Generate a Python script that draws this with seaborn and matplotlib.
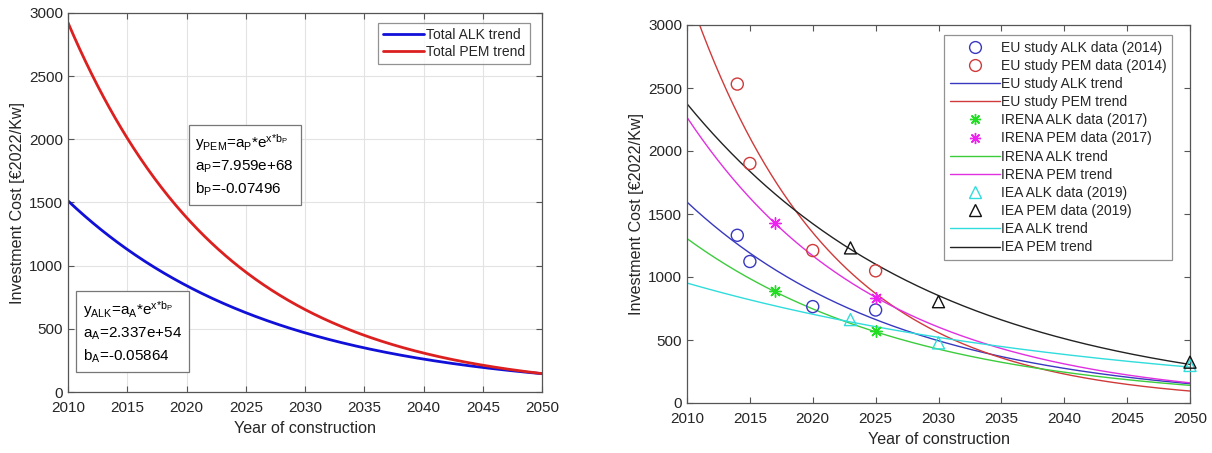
import numpy as np
import pandas as pd
import matplotlib
matplotlib.use("Agg")
import matplotlib.pyplot as plt
import seaborn as sns
from matplotlib.lines import Line2D

# ---------------- Left panel: total trends (fit parameters shown on chart) -------------
total_names = ["Total ALK trend", "Total PEM trend"]
total_a = [2.337e54, 7.959e68]
total_b = [-0.05864, -0.07496]
total_colors = ["#1010d8", "#dc2020"]

# ---------------- Right panel: source data -------------
eu_years = [2014, 2015, 2020, 2025]
eu_alk_cost = [1331, 1123, 765, 738]
eu_pem_cost = [2531, 1901, 1210, 1049]

irena_years = [2017, 2025]
irena_alk_cost = [886, 572]
irena_pem_cost = [1426, 833]

iea_years = [2023, 2030, 2050]
iea_alk_cost = [662, 477, 298]
iea_pem_cost = [1231, 804, 324]

# exponential trend lines: value at 2010 and at 2050
trend_names = ["EU study ALK trend", "EU study PEM trend", "IRENA ALK trend",
               "IRENA PEM trend", "IEA ALK trend", "IEA PEM trend"]
trend_2010 = [1595, 3278, 1305, 2267, 952, 2375]
trend_2050 = [153, 95, 140, 160, 285, 306]

C_BLUE, C_RED, C_GREEN, C_MAG, C_CYAN, C_BLACK = (
    "#3838c0", "#d03a3a", "#3ccc3c", "#e030e0", "#30dcdc", "#222222")
trend_colors = [C_BLUE, C_RED, C_GREEN, C_MAG, C_CYAN, C_BLACK]

xlabel = "Year of construction"
ylabel = "Investment Cost [\u20ac2022/Kw]"
xticks = [2010, 2015, 2020, 2025, 2030, 2035, 2040, 2045, 2050]
yticks = [0, 500, 1000, 1500, 2000, 2500, 3000]

# ---------------- style -------------
sns.set_style("ticks")
plt.rcParams["font.family"] = ["Liberation Sans", "DejaVu Sans"]
plt.rcParams["mathtext.fontset"] = "custom"
plt.rcParams["mathtext.rm"] = "Liberation Sans"
plt.rcParams["mathtext.it"] = "Liberation Sans"
plt.rcParams["mathtext.bf"] = "Liberation Sans:bold"

TXT = "#262626"
EDGE = "#555555"

W, H = 1212, 453
fig = plt.figure(figsize=(W / 100, H / 100), dpi=100)
fig.patch.set_facecolor("white")


def px_axes(x0, y0, x1, y1):
    return fig.add_axes([x0 / W, 1 - y1 / H, (x1 - x0) / W, (y1 - y0) / H])


def style_axes(ax, grid):
    ax.set_xlim(2010, 2050)
    ax.set_ylim(0, 3000)
    ax.set_xticks(xticks)
    ax.set_yticks(yticks)
    ax.tick_params(direction="in", top=True, right=True, length=4, width=0.8,
                   colors=EDGE, labelcolor=TXT, labelsize=11)
    ax.tick_params(axis="x", pad=6.5)
    ax.tick_params(axis="y", pad=3.5)
    for s in ax.spines.values():
        s.set_visible(True)
        s.set_color(EDGE)
        s.set_linewidth(0.9)
    ax.set_xlabel(xlabel, fontsize=11.6, color=TXT, labelpad=4.5)
    ax.set_ylabel(ylabel, fontsize=11.6, color=TXT, labelpad=3)
    if grid:
        ax.grid(True, color="#e3e3e3", linewidth=0.8)
        ax.set_axisbelow(True)


# ---------------- Left panel -------------
axL = px_axes(68, 13, 542, 392)
xs = np.linspace(2010, 2050, 401)
rows = []
for name, a, b in zip(total_names, total_a, total_b):
    for x in xs:
        rows.append((name, x, a * np.exp(b * x)))
dfL = pd.DataFrame(rows, columns=["series", "year", "cost"])
sns.lineplot(data=dfL, x="year", y="cost", hue="series", hue_order=total_names,
             palette=total_colors, linewidth=2.0, ax=axL, legend=False)
style_axes(axL, grid=True)
handlesL = [Line2D([], [], color=c, lw=2.0) for c in total_colors]
legL = axL.legend(handlesL, total_names, loc="upper right", bbox_to_anchor=(0.974, 0.974),
                  fontsize=10, frameon=True, fancybox=False, edgecolor="#777777",
                  handlelength=3.0, handletextpad=0.1, labelspacing=0.25,
                  borderpad=0.35, borderaxespad=0.0)
legL.get_frame().set_linewidth(0.9)

box = dict(boxstyle="square,pad=0.45", fc="white", ec="#777777", lw=0.9)
pem_txt = (r"y$_\mathrm{PEM}$=a$_\mathrm{P}$*e$^{\text{x*b}_\mathrm{P}}$" + "\n" +
           r"a$_\mathrm{P}$=7.959e+68" + "\n" + r"b$_\mathrm{P}$=-0.07496")
alk_txt = (r"y$_\mathrm{ALK}$=a$_\mathrm{A}$*e$^{\text{x*b}_\mathrm{P}}$" + "\n" +
           r"a$_\mathrm{A}$=2.337e+54" + "\n" + r"b$_\mathrm{A}$=-0.05864")
axL.text(2020.75, 2055, pem_txt, fontsize=11, color="black", va="top", ha="left",
         linespacing=1.45, bbox=box)
axL.text(2011.25, 735, alk_txt, fontsize=11, color="black", va="top", ha="left",
         linespacing=1.45, bbox=box)

# ---------------- Right panel -------------
axR = px_axes(687, 25, 1190, 403)
rows = []
for name, v0, v1 in zip(trend_names, trend_2010, trend_2050):
    for x in xs:
        rows.append((name, x, v0 * (v1 / v0) ** ((x - 2010) / 40.0)))
dfR = pd.DataFrame(rows, columns=["series", "year", "cost"])
sns.lineplot(data=dfR, x="year", y="cost", hue="series", hue_order=trend_names,
             palette=trend_colors, linewidth=1.0, ax=axR, legend=False)

AST = (8, 2, 0)
point_sets = [
    ("EU study ALK data (2014)", eu_years, eu_alk_cost, "o", C_BLUE),
    ("EU study PEM data (2014)", eu_years, eu_pem_cost, "o", C_RED),
    ("IRENA ALK data (2017)", irena_years, irena_alk_cost, AST, "#22dd22"),
    ("IRENA PEM data (2017)", irena_years, irena_pem_cost, AST, "#ee22ee"),
    ("IEA ALK data (2019)", iea_years, iea_alk_cost, "^", C_CYAN),
    ("IEA PEM data (2019)", iea_years, iea_pem_cost, "^", "#111111"),
]
for name, xv, yv, mk, col in point_sets:
    d = pd.DataFrame({"year": xv, "cost": yv})
    if mk == AST:
        sns.scatterplot(data=d, x="year", y="cost", marker=mk, s=70, color=col,
                        edgecolor=col, linewidth=1.0, ax=axR, zorder=5, clip_on=False)
    else:
        sns.scatterplot(data=d, x="year", y="cost", marker=mk, s=75, facecolor="none",
                        edgecolor=col, linewidth=1.0, ax=axR, zorder=5, clip_on=False)
style_axes(axR, grid=False)


def mk_handle(mk, col):
    if mk == AST:
        return Line2D([], [], ls="none", marker=mk, ms=8, color=col, mec=col, mew=1.0)
    return Line2D([], [], ls="none", marker=mk, ms=8.5, mfc="none", mec=col, mew=1.0)


ps = {p[0]: p for p in point_sets}
order = [
    ("p", "EU study ALK data (2014)"), ("p", "EU study PEM data (2014)"),
    ("t", 0), ("t", 1),
    ("p", "IRENA ALK data (2017)"), ("p", "IRENA PEM data (2017)"),
    ("t", 2), ("t", 3),
    ("p", "IEA ALK data (2019)"), ("p", "IEA PEM data (2019)"),
    ("t", 4), ("t", 5),
]
handlesR, labelsR = [], []
for kind, key in order:
    if kind == "p":
        _, _, _, mk, col = ps[key]
        handlesR.append(mk_handle(mk, col))
        labelsR.append(key)
    else:
        handlesR.append(Line2D([], [], color=trend_colors[key], lw=1.0))
        labelsR.append(trend_names[key])
legR = axR.legend(handlesR, labelsR, loc="upper right", bbox_to_anchor=(0.964, 0.9735),
                  fontsize=10, frameon=True, fancybox=False, edgecolor="#777777",
                  handlelength=3.6, handletextpad=0.05, labelspacing=0.3,
                  borderpad=0.4, borderaxespad=0.0)
legR.get_frame().set_linewidth(0.9)

fig.savefig("out.png", dpi=100, facecolor="white")
